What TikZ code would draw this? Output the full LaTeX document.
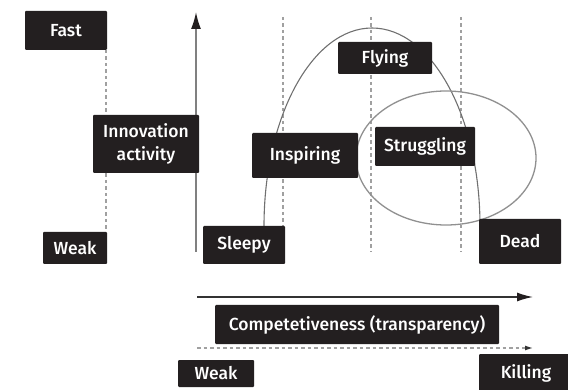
\documentclass[tikz,border=0pt]{standalone}
\usepackage{fontspec}
\setmainfont{Fira Sans}
\newfontfamily\boxfont{Fira Sans Medium}
\usepackage{tikz}
\usetikzlibrary{arrows.meta}

\definecolor{boxfill}{HTML}{231F20}
\definecolor{guide}{HTML}{A0A0A0}
\definecolor{curve}{HTML}{707070}
\definecolor{axis}{HTML}{333333}

\begin{document}
\begin{tikzpicture}[x=1pt,y=-1pt]
  \tikzset{box/.style = {fill=boxfill,text=white,rounded corners=1pt,inner sep=0pt,
      align=center,font=\boxfont\fontsize{17.5}{23}\selectfont}}
  \tikzset{guideline/.style = {draw=guide,line width=1.2pt,dash pattern=on 3.5pt off 3pt}}
  \tikzset{axisarrow/.style = {draw=axis,line width=1.4pt,-{Latex[length=16pt,width=9pt,color=boxfill]}}}

  \useasboundingbox (0,0) rectangle (568,390);
  \clip (0,0) rectangle (568,390);

  % guide lines
  \draw[guideline] (106,50) -- (106,232);
  \foreach \x in {283,371,461}
    \draw[guideline] (\x,17) -- (\x,252);

  % life cycle and crisis
  \draw[curve,line width=1.1pt] (264,226) arc[start angle=180,end angle=0,x radius=108pt,y radius=198pt];
  \draw[guide!90!black,line width=1.3pt] (446,158) ellipse[x radius=90pt,y radius=67pt];

  % axes
	\coordinate (ybot) at (196,252);
	\coordinate (ytop) at (196,12);
	\coordinate (xleft) at (197,297);
	\coordinate (xright) at (533,297);
	\coordinate (kleft) at (197,348);
	\coordinate (kright) at (533,348);
	\draw[axisarrow,draw=gray,line width=1.6pt,-{Latex[length=17pt,width=10pt,color=boxfill]}] (ybot) -- (ytop);
	\draw[axisarrow] (xleft) -- (xright);
	\draw[guideline,-{Latex[length=8pt,width=5pt,color=axis]}] (kleft) -- (kright);

	\node[box,minimum width=82pt,minimum height=39pt] (fast) at (66,30.5) {Fast};
	\node[box,minimum width=64pt,minimum height=32pt] (weakA) at (75,248) {Weak};
	\node[box,minimum width=106pt,minimum height=58pt] (innovation) at (146,144) {Innovation\\activity};

	\node[box,minimum width=82pt,minimum height=38pt] (sleepy) at (244,245) {Sleepy};
	\node[box,minimum width=106pt,minimum height=45pt] (inspiring) at (305,155.5) {Inspiring};
	\node[box,minimum width=94pt,minimum height=32pt] (flying) at (385,58) {Flying};
	\node[box,minimum width=100pt,minimum height=39pt] (struggling) at (425,146.5) {Struggling};
	\node[box,minimum width=82pt,minimum height=45pt] (dead) at (520,241.5) {Dead};

	\node[box,minimum width=284pt,minimum height=39pt] (compet) at (357,324.5) {Competetiveness (transparency)};
	\node[box,minimum width=76pt,minimum height=27pt] (weakB) at (216,373.5) {Weak};
	\node[box,minimum width=94pt,minimum height=39pt] (killing) at (526,373.5) {Killing};
\end{tikzpicture}
\end{document}
